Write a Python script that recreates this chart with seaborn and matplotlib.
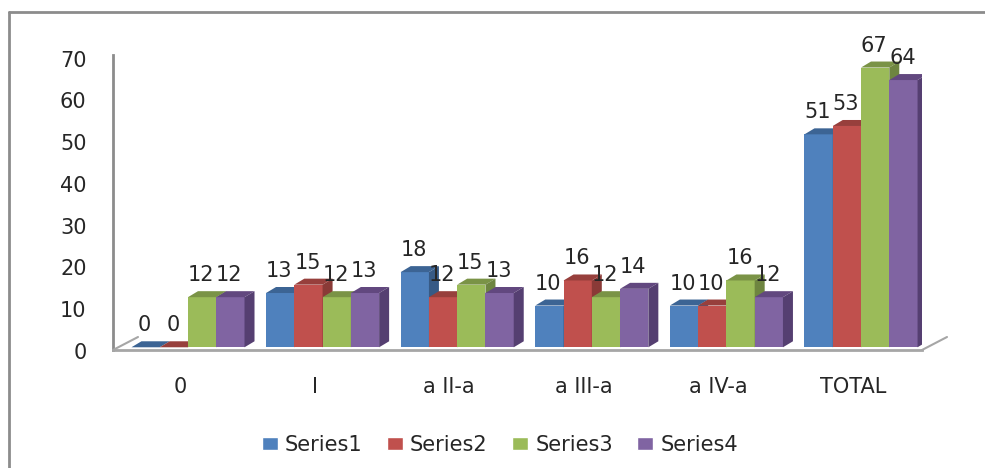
import matplotlib
matplotlib.use('Agg')
import matplotlib.pyplot as plt
import matplotlib.transforms as mtrans
from matplotlib.lines import Line2D
from matplotlib.patches import Polygon
import pandas as pd
import seaborn as sns

categories = ['0', 'I', 'a II-a', 'a III-a', 'a IV-a', 'TOTAL']
series_names = ['Series1', 'Series2', 'Series3', 'Series4']
series1 = [0, 13, 18, 10, 10, 51]
series2 = [0, 15, 12, 16, 10, 53]
series3 = [12, 12, 15, 12, 16, 67]
series4 = [12, 13, 13, 14, 12, 64]

front_colors = ['#4F81BD', '#C0504D', '#9BBB59', '#8064A2']
top_colors = ['#3C6494', '#973F3C', '#7A9346', '#62487F']
side_colors = ['#375A85', '#8A3A37', '#6E8540', '#553F71']

W, H = 985, 468
DX, DY = 10, 6   # depth of the fake 3d, in pixels
TEXT = '#262626'

df = pd.DataFrame({
    'cat': categories * 4,
    'val': series1 + series2 + series3 + series4,
    'series': [s for s in series_names for _ in categories],
})

sns.set_theme(style='white')
plt.rcParams['font.family'] = ['DejaVu Sans']

fig = plt.figure(figsize=(W / 100, H / 100), dpi=100)
ax = fig.add_axes([113 / W, 1 - 350 / H, (922 - 113) / W, (350 - 55) / H])

sns.barplot(data=df, x='cat', y='val', hue='series', order=categories,
            hue_order=series_names, palette=front_colors, width=0.84, gap=0,
            saturation=1, ax=ax)

ax.set_xlim(-0.557, 5.453)
ax.set_ylim(-0.65, 69.6)
ax.set_xlabel('')
ax.set_ylabel('')
ax.set_yticks(range(0, 71, 10))
ax.tick_params(axis='both', length=0, labelsize=15, labelcolor=TEXT)
ax.tick_params(axis='y', pad=19)
ax.tick_params(axis='x', pad=19.5)

sns.despine(ax=ax)
ax.spines['left'].set_color('#8C8C8C')
ax.spines['bottom'].set_color('#A6A6A6')
for s in ['left', 'bottom']:
    ax.spines[s].set_linewidth(2)

# data units per pixel, for the depth faces
xu = (ax.get_xlim()[1] - ax.get_xlim()[0]) / (922 - 113)
yu = (ax.get_ylim()[1] - ax.get_ylim()[0]) / (350 - 55)
dx, dy = DX * xu, DY * yu

for i, bars in enumerate(ax.containers[:4]):
    z = 3 + i
    for b in bars:
        x0, x1 = b.get_x(), b.get_x() + b.get_width()
        h = b.get_height()
        b.set_zorder(z)
        b.set_linewidth(0)
        ax.add_patch(Polygon([(x0, h), (x1, h), (x1 + dx, h + dy), (x0 + dx, h + dy)],
                             fc=top_colors[i], lw=0, zorder=z))
        ax.add_patch(Polygon([(x1, 0), (x1 + dx, dy), (x1 + dx, h + dy), (x1, h)],
                             fc=side_colors[i], lw=0, zorder=z))
        ax.annotate(f'{h:.0f}', (x0 + b.get_width() / 2, h), xytext=(-1, 16),
                    textcoords='offset pixels', ha='center', va='baseline',
                    fontsize=15, color=TEXT, zorder=10, annotation_clip=False)

# floor stubs
fig.add_artist(Line2D([113 / W, 138 / W], [1 - 350 / H, 1 - 337 / H], color='#A6A6A6', lw=1.5))
fig.add_artist(Line2D([922 / W, 947 / W], [1 - 350 / H, 1 - 337 / H], color='#A6A6A6', lw=1.5))

# tick labels sit a bit off in the original
off_y = mtrans.ScaledTranslation(0, -3.5 / 100, fig.dpi_scale_trans)
off_x = mtrans.ScaledTranslation(-8 / 100, 0, fig.dpi_scale_trans)
for t in ax.get_yticklabels():
    t.set_transform(t.get_transform() + off_y)
for t in ax.get_xticklabels():
    t.set_transform(t.get_transform() + off_x)

handles, labels = ax.get_legend_handles_labels()
ax.legend(handles, labels, loc='center', bbox_to_anchor=(500 / W, 1 - 445 / H),
          bbox_transform=fig.transFigure, ncol=4, frameon=False, fontsize=15,
          handlelength=0.77, handleheight=0.53, handletextpad=0.33, columnspacing=1.18,
          labelcolor=TEXT)

# outer frame, only left and top are visible
fig.add_artist(Line2D([8.5 / W, 8.5 / W], [0, 1 - 12 / H], color='#8C8C8C', lw=2))
fig.add_artist(Line2D([8.5 / W, 1], [1 - 12 / H, 1 - 12 / H], color='#8C8C8C', lw=2))

fig.savefig('out.png', dpi=100)
